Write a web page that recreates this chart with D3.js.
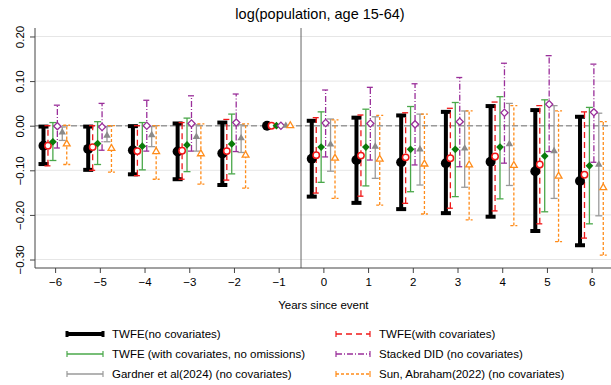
<!DOCTYPE html>
<html>
<head>
<meta charset="utf-8">
<script src="https://cdn.jsdelivr.net/npm/d3@7"></script>
<style>
  body { margin: 0; background: #fff; }
  text { font-family: "Liberation Sans", Arial, sans-serif; fill: #000; }
</style>
</head>
<body>
<div id="wrapper"></div>
<script>

// 1. Data

const events = [-6, -5, -4, -3, -2, -1, 0, 1, 2, 3, 4, 5, 6];

const twfeEst = [-0.045, -0.052, -0.055, -0.058, -0.062, 0, -0.074, -0.077, -0.082, -0.084, -0.081, -0.102, -0.124];
const twfeLo  = [-0.086, -0.099, -0.109, -0.120, -0.133, null, -0.159, -0.173, -0.187, -0.196, -0.204, -0.236, -0.268];
const twfeHi  = [-0.002, -0.002, -0.001, 0.005, 0.007, null, 0.011, 0.018, 0.023, 0.031, 0.044, 0.035, 0.020];

const covEst = [-0.045, -0.048, -0.057, -0.056, -0.057, 0, -0.066, -0.067, -0.071, -0.073, -0.069, -0.087, -0.110];
const covLo  = [-0.090, -0.100, -0.112, -0.120, -0.122, null, -0.151, -0.158, -0.174, -0.185, -0.191, -0.220, -0.252];
const covHi  = [0.000, 0.000, 0.000, 0.007, 0.014, null, 0.018, 0.024, 0.029, 0.039, 0.053, 0.045, 0.031];

const noOmitEst = [-0.036, -0.040, -0.046, -0.043, -0.041, 0, -0.048, -0.048, -0.053, -0.053, -0.048, -0.068, -0.090];
const noOmitLo  = [-0.078, -0.087, -0.099, -0.103, -0.108, null, -0.127, -0.135, -0.148, -0.159, -0.164, -0.193, -0.220];
const noOmitHi  = [0.007, 0.009, 0.007, 0.017, 0.026, null, 0.031, 0.037, 0.043, 0.052, 0.065, 0.058, 0.041];

const stackedEst = [-0.001, -0.003, 0.000, 0.005, 0.007, 0, 0.006, 0.005, 0.003, 0.009, 0.029, 0.048, 0.030];
const stackedLo  = [-0.050, -0.055, -0.057, -0.057, -0.058, null, -0.070, -0.077, -0.088, -0.092, -0.084, -0.058, -0.082];
const stackedHi  = [0.046, 0.050, 0.057, 0.067, 0.071, null, 0.080, 0.086, 0.094, 0.108, 0.140, 0.157, 0.138];

const gardnerEst = [-0.015, -0.022, -0.021, -0.025, -0.028, 0, -0.042, -0.047, -0.053, -0.051, -0.041, -0.057, -0.087];
const gardnerLo  = [-0.033, -0.036, -0.047, -0.057, -0.060, null, -0.102, -0.118, -0.133, -0.138, -0.134, -0.163, -0.202];
const gardnerHi  = [-0.003, -0.002, -0.002, 0.002, 0.002, null, 0.015, 0.020, 0.026, 0.033, 0.050, 0.045, 0.028];

const sunEst = [-0.041, -0.051, -0.058, -0.063, -0.066, 0, -0.073, -0.075, -0.086, -0.088, -0.089, -0.113, -0.139];
const sunLo  = [-0.087, -0.104, -0.120, -0.131, -0.140, null, -0.163, -0.178, -0.198, -0.211, -0.224, -0.260, -0.290];
const sunHi  = [0.001, 0.000, 0.000, 0.004, 0.004, null, 0.013, 0.023, 0.026, 0.033, 0.045, 0.033, 0.009];

const yTicks = [0.2, 0.1, 0, -0.1, -0.2, -0.3];

// series styling
const series = [
  { name: "TWFE(no covariates)", est: twfeEst, lo: twfeLo, hi: twfeHi, offset: -0.26,
    color: "#000", width: 4, dash: null, cap: 5, marker: "circle", r: 5, fill: "#000", mcolor: "#000" },
  { name: "TWFE(with covariates)", est: covEst, lo: covLo, hi: covHi, offset: -0.16,
    color: "#f01818", width: 1.3, dash: "6,4", cap: 3.5, marker: "circle", r: 3.2, fill: "#fff", mcolor: "#f01818" },
  { name: "TWFE (with covariates, no omissions)", est: noOmitEst, lo: noOmitLo, hi: noOmitHi, offset: -0.05,
    color: "#4aa84a", width: 1.3, dash: null, cap: 3.5, marker: "diamond", size: 30, fill: "#0a7a0a", mcolor: "#0a7a0a" },
  { name: "Stacked DID (no covariates)", est: stackedEst, lo: stackedLo, hi: stackedHi, offset: 0.05,
    color: "#9a2f9a", width: 1.3, dash: "6,2,1,2", cap: 3.5, marker: "diamond", size: 26, fill: "#fff", mcolor: "#9a2f9a" },
  { name: "Gardner et al(2024) (no covariates)", est: gardnerEst, lo: gardnerLo, hi: gardnerHi, offset: 0.16,
    color: "#9a9a9a", width: 1.3, dash: null, cap: 3.5, marker: "triangle", size: 24, fill: "#8a8a8a", mcolor: "#8a8a8a" },
  { name: "Sun, Abraham(2022) (no covariates)", est: sunEst, lo: sunLo, hi: sunHi, offset: 0.26,
    color: "#ff8c1a", width: 1.3, dash: "3,2", cap: 3.5, marker: "triangle", size: 20, fill: "#fff", mcolor: "#ff8c1a" },
];

// 2. Dimensions

const dimensions = {
  width: 611,
  height: 385,
  plotLeft: 35,
  plotRight: 614,
  plotTop: 28,
  plotBottom: 268,
};

const svg = d3.select("#wrapper")
  .append("svg")
  .attr("width", dimensions.width)
  .attr("height", dimensions.height);

// 3. Scales

const xScale = d3.scaleLinear()
  .domain([-6.45, 6.5])
  .range([dimensions.plotLeft, dimensions.plotRight]);

const yScale = d3.scaleLinear()
  .domain([-0.319, 0.219])
  .range([dimensions.plotBottom, dimensions.plotTop]);

// 4. Peripherals

const grid = svg.append("g");
yTicks.forEach(t => {
  grid.append("line")
    .attr("x1", dimensions.plotLeft)
    .attr("x2", dimensions.width)
    .attr("y1", yScale(t))
    .attr("y2", yScale(t))
    .attr("stroke", "#e6e6e6")
    .attr("stroke-width", 1);
});

// zero reference line
svg.append("line")
  .attr("x1", dimensions.plotLeft)
  .attr("x2", dimensions.width)
  .attr("y1", yScale(0))
  .attr("y2", yScale(0))
  .attr("stroke", "#999")
  .attr("stroke-width", 1.5)
  .attr("stroke-dasharray", "6,3");

// event line
svg.append("line")
  .attr("x1", xScale(-0.5))
  .attr("x2", xScale(-0.5))
  .attr("y1", dimensions.plotTop)
  .attr("y2", dimensions.plotBottom)
  .attr("stroke", "#666")
  .attr("stroke-width", 1);

// y axis
const yAxis = d3.axisLeft(yScale)
  .tickValues(yTicks)
  .tickSize(5)
  .tickFormat(d3.format(".2f"));

const yAxisGroup = svg.append("g")
  .attr("transform", `translate(${dimensions.plotLeft},0)`)
  .call(yAxis);
yAxisGroup.select(".domain")
  .attr("d", `M0,${dimensions.plotTop}V${dimensions.plotBottom}`)
  .attr("stroke", "#444");
yAxisGroup.selectAll(".tick line").attr("stroke", "#444");
yAxisGroup.selectAll(".tick text")
  .attr("x", 0)
  .attr("dy", 0)
  .attr("transform", "translate(-11,0) rotate(-90)")
  .attr("text-anchor", "middle")
  .style("font-size", "11.5px")
  .style("font-family", "'Liberation Sans', Arial, sans-serif")
  .attr("fill", "#000");

// x axis
const xAxis = d3.axisBottom(xScale)
  .tickValues(events)
  .tickSize(5)
  .tickFormat(d3.format("d"));

const xAxisGroup = svg.append("g")
  .attr("transform", `translate(0,${dimensions.plotBottom})`)
  .call(xAxis);
xAxisGroup.select(".domain")
  .attr("d", `M${dimensions.plotLeft},0H${dimensions.width}`)
  .attr("stroke", "#444");
xAxisGroup.selectAll(".tick line").attr("stroke", "#444");
xAxisGroup.selectAll(".tick text")
  .attr("y", 10)
  .style("font-size", "11.5px")
  .style("font-family", "'Liberation Sans', Arial, sans-serif")
  .attr("fill", "#000");

svg.append("text")
  .attr("x", 320)
  .attr("y", 19)
  .attr("text-anchor", "middle")
  .style("font-size", "14.5px")
  .text("log(population, age 15-64)");

svg.append("text")
  .attr("x", xScale(0))
  .attr("y", 309)
  .attr("text-anchor", "middle")
  .style("font-size", "11.5px")
  .text("Years since event");

// 5. Draw data

// diamonds are drawn as squares turned 45 degrees (d3's diamond is too tall)
const symbolFor = s => {
  if (s.marker === "diamond") return d3.symbol(d3.symbolSquare, s.size)();
  if (s.marker === "triangle") return d3.symbol(d3.symbolTriangle, s.size)();
  return null;
};

const bars = svg.append("g");
series.forEach(s => {
  const g = bars.append("g")
    .attr("stroke", s.color)
    .attr("stroke-width", s.width)
    .attr("stroke-dasharray", s.dash);
  events.forEach((e, i) => {
    if (s.lo[i] === null) return;
    const x = xScale(e + s.offset);
    g.append("line")
      .attr("x1", x).attr("x2", x)
      .attr("y1", yScale(s.lo[i])).attr("y2", yScale(s.hi[i]));
    [s.lo[i], s.hi[i]].forEach(v => {
      g.append("line")
        .attr("x1", x - s.cap).attr("x2", x + s.cap)
        .attr("y1", yScale(v)).attr("y2", yScale(v))
        .attr("stroke-dasharray", null);
    });
  });
});

const markers = svg.append("g");
series.forEach(s => {
  events.forEach((e, i) => {
    const x = xScale(e + s.offset);
    const y = yScale(s.est[i]);
    if (s.marker === "circle") {
      markers.append("circle")
        .attr("cx", x).attr("cy", y).attr("r", s.r)
        .attr("fill", s.fill)
        .attr("stroke", s.mcolor)
        .attr("stroke-width", s.fill === "#fff" ? 1.5 : 0);
    } else {
      const rot = s.marker === "diamond" ? " rotate(45)" : "";
      markers.append("path")
        .attr("d", symbolFor(s))
        .attr("transform", `translate(${x},${y})${rot}`)
        .attr("fill", s.fill)
        .attr("stroke", s.mcolor)
        .attr("stroke-width", s.fill === "#fff" ? 1.3 : 0);
    }
  });
});

// 6. Legend

const legendRows = [334, 354, 374];
const legendCols = [
  { x1: 67, x2: 103, tx: 112 },
  { x1: 336, x2: 370, tx: 379 },
];
const legendOrder = [0, 2, 4, 1, 3, 5];
const legend = svg.append("g");
legendOrder.forEach((si, k) => {
  const s = series[si];
  const col = legendCols[Math.floor(k / 3)];
  const y = legendRows[k % 3];
  const g = legend.append("g")
    .attr("stroke", s.color)
    .attr("stroke-width", s.width);
  g.append("line")
    .attr("x1", col.x1).attr("x2", col.x2)
    .attr("y1", y).attr("y2", y)
    .attr("stroke-dasharray", s.dash);
  [col.x1, col.x2].forEach(xx => {
    g.append("line")
      .attr("x1", xx).attr("x2", xx)
      .attr("y1", y - 3).attr("y2", y + 3)
      .attr("stroke-width", s.width > 2 ? 3 : 1.2);
  });
  legend.append("text")
    .attr("x", col.tx)
    .attr("y", y + 4)
    .style("font-size", "11.5px")
    .text(s.name);
});

</script>
</body>
</html>
